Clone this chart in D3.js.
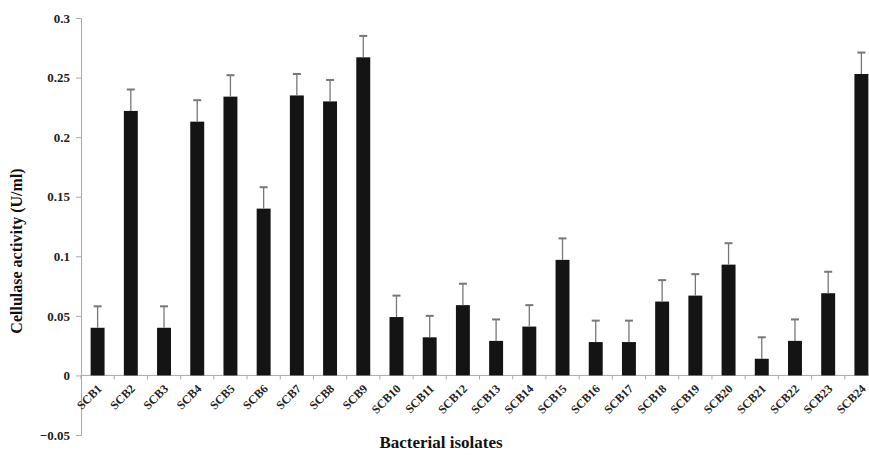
<!DOCTYPE html>
<html>
<head>
<meta charset="utf-8">
<script src="https://cdn.jsdelivr.net/npm/d3@7"></script>
<style>
  body { margin: 0; background: #fff; }
  #chart { width: 869px; height: 456px; }
</style>
</head>
<body>
<div id="chart"></div>
<script>
const isolates = ["SCB1","SCB2","SCB3","SCB4","SCB5","SCB6","SCB7","SCB8","SCB9","SCB10","SCB11","SCB12",
    "SCB13","SCB14","SCB15","SCB16","SCB17","SCB18","SCB19","SCB20","SCB21","SCB22","SCB23","SCB24"];
const activity = [0.040,0.222,0.040,0.213,0.234,0.140,0.235,0.230,0.267,0.049,0.032,0.059,
    0.029,0.041,0.097,0.028,0.028,0.062,0.067,0.093,0.014,0.029,0.069,0.253];
const errors = [0.018,0.018,0.018,0.018,0.018,0.018,0.018,0.018,0.018,0.018,0.018,0.018,
    0.018,0.018,0.018,0.018,0.018,0.018,0.018,0.018,0.018,0.018,0.018,0.018];
const yTicks = [-0.05,0,0.05,0.1,0.15,0.2,0.25,0.3];

const FONT = "'Liberation Serif', 'Times New Roman', serif";

const drawChart = function () {
    const node = document.querySelector("#chart");
    const width = 869, height = 456;
    const margin = {top: 18, right: -9, bottom: 21, left: 81};

    const innerWidth = width - margin.left - margin.right;
    const innerHeight = height - margin.top - margin.bottom;

    const svg = d3.select(node).append("svg")
        .attr("width", width)
        .attr("height", height);

    const g = svg.append("g")
        .attr("transform", "translate(" + margin.left + "," + margin.top + ")");

    const x = d3.scaleBand().domain(isolates).range([0, innerWidth]).paddingInner(0.58).paddingOuter(0.29);
    const y = d3.scaleLinear().domain([-0.05, 0.3]).range([innerHeight, 0]);

    // y axis
    const yAxis = d3.axisLeft(y).tickValues(yTicks).tickSize(5).tickPadding(6)
        .tickFormat(d => d === 0 ? "0" : d3.format("")(+d.toFixed(2)));
    const ya = g.append("g").attr("class", "y axis").call(yAxis)
        .attr("font-family", FONT);
    ya.select(".domain").attr("stroke", "#aaa");
    ya.selectAll(".tick line").attr("stroke", "#aaa");
    ya.selectAll(".tick text")
        .style("font-family", FONT)
        .style("font-weight", "bold")
        .style("font-size", "13px")
        .attr("fill", "#222");

    // x axis at zero
    const step = x.step();
    g.append("line")
        .attr("x1", 0).attr("x2", innerWidth)
        .attr("y1", y(0)).attr("y2", y(0))
        .attr("stroke", "#aaa");
    g.selectAll(".xtick")
        .data(isolates)
        .enter()
        .append("line")
        .attr("class", "xtick")
        .attr("x1", d => x(d) + x.bandwidth() / 2 - step / 2)
        .attr("x2", d => x(d) + x.bandwidth() / 2 - step / 2)
        .attr("y1", y(0)).attr("y2", y(0) + 4)
        .attr("stroke", "#aaa");

    // bars
    g.selectAll(".bar")
        .data(isolates)
        .enter()
        .append("rect")
        .attr("class", "bar")
        .attr("x", d => x(d))
        .attr("width", x.bandwidth())
        .attr("y", (d, i) => y(activity[i]))
        .attr("height", (d, i) => y(0) - y(activity[i]))
        .attr("fill", "#141414");

    // error bars (upper only)
    const err = g.selectAll(".err")
        .data(isolates)
        .enter()
        .append("g")
        .attr("class", "err")
        .attr("stroke", "#777")
        .attr("stroke-width", 1.3);
    err.append("line")
        .attr("x1", d => x(d) + x.bandwidth() / 2)
        .attr("x2", d => x(d) + x.bandwidth() / 2)
        .attr("y1", (d, i) => y(activity[i]))
        .attr("y2", (d, i) => y(activity[i] + errors[i]));
    err.append("line")
        .attr("x1", d => x(d) + x.bandwidth() / 2 - 4)
        .attr("x2", d => x(d) + x.bandwidth() / 2 + 4)
        .attr("y1", (d, i) => y(activity[i] + errors[i]))
        .attr("y2", (d, i) => y(activity[i] + errors[i]))
        .attr("stroke-width", 2);

    // category labels, rotated -45
    g.selectAll(".label")
        .data(isolates)
        .enter()
        .append("text")
        .attr("class", "label")
        .attr("transform", d => "translate(" + (x(d) + x.bandwidth() / 2 + 2) + "," + (y(0) + 11) + ") rotate(-45)")
        .attr("text-anchor", "end")
        .attr("dy", "0.35em")
        .style("font-family", FONT)
        .style("font-weight", "bold")
        .style("font-size", "12px")
        .attr("fill", "#222")
        .text(d => d);

    // axis titles
    svg.append("text")
        .attr("transform", "translate(22,251) rotate(-90)")
        .attr("text-anchor", "middle")
        .style("font-family", FONT)
        .style("font-weight", "bold")
        .style("font-size", "16px")
        .attr("fill", "#111")
        .text("Cellulase activity (U/ml)");

    svg.append("text")
        .attr("x", 441)
        .attr("y", 448)
        .attr("text-anchor", "middle")
        .style("font-family", FONT)
        .style("font-weight", "bold")
        .style("font-size", "17px")
        .attr("fill", "#111")
        .text("Bacterial isolates");
};

drawChart();
</script>
</body>
</html>
